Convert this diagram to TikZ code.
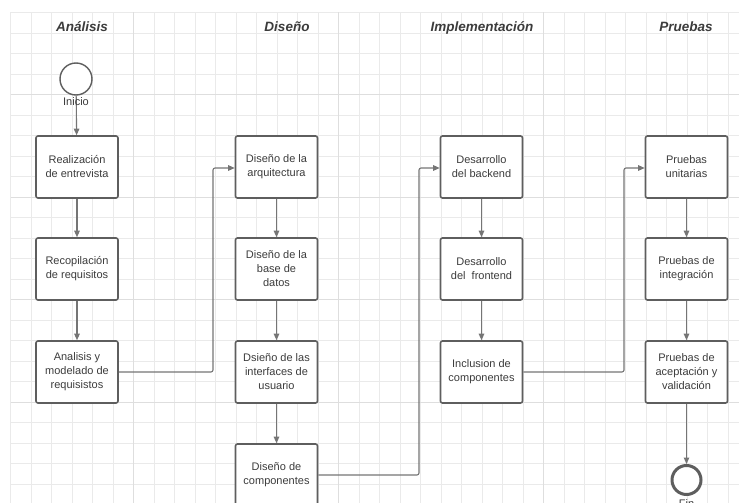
\documentclass[tikz,border=0pt]{standalone}
\usepackage{fontspec}
\setmainfont{Liberation Sans}
\definecolor{slate}{HTML}{5E5E5E}
\definecolor{steel}{HTML}{757575}
\definecolor{ink}{HTML}{3C3C3C}
\definecolor{mist}{HTML}{EAEAEA}
\definecolor{fog}{HTML}{DEDEDE}
\usetikzlibrary{arrows.meta}

\begin{document}
\begin{tikzpicture}[x=1pt, y=-1pt,
  box/.style={draw=slate, line width=1.6pt, fill=white, rounded corners=2pt,
    minimum width=82pt, minimum height=62pt, inner sep=0pt, align=center,
    text=ink, font=\fontsize{11}{14}\selectfont},
  heading/.style={anchor=base, text=ink, font=\fontsize{13.5}{16}\selectfont\bfseries\itshape},
  caption/.style={text=ink, font=\fontsize{11}{14}\selectfont},
  link/.style={draw=steel, line width=1.1pt, rounded corners=2pt,
    -{Triangle[length=6.5pt, width=5.5pt]}},
  gridline/.style={draw=mist, line width=0.8pt},
  gridmajor/.style={draw=fog, line width=1pt}]
  \clip (0,0) rectangle (739,503);
  \fill[white] (0,0) rectangle (739,503);

  % grid
  \foreach \k in {0,...,35}
    \draw[gridline] (10.5+20.5*\k, 12.5) -- (10.5+20.5*\k, 503);
  \foreach \k in {0,...,23}
    \draw[gridline] (10.5, 12.5+20.5*\k) -- (739, 12.5+20.5*\k);
  \foreach \k in {6,16,26}
    \draw[gridmajor] (10.5+20.5*\k, 12.5) -- (10.5+20.5*\k, 503);
  \foreach \k in {4,9,14,19}
    \draw[gridmajor] (10.5, 12.5+20.5*\k) -- (739, 12.5+20.5*\k);

  % lane titles
  \node[heading] (hanalisis) at (82,31.5) {Análisis};
  \node[heading] (hdiseno) at (287,31.5) {Diseño};
  \node[heading] (himpl) at (482,31.5) {Implementación};
  \node[heading] (hpruebas) at (686,31.5) {Pruebas};

  % start and end
  \node[circle, draw=slate, line width=1.4pt, fill=white, minimum size=32pt] (start) at (76,79) {};
  \node[circle, draw=slate, line width=3pt, fill=white, minimum size=29pt] (stop) at (686.5,480) {};

  % analisis
  \node[box] (a1) at (77,167) {Realización\\de entrevista};
  \node[box] (a2) at (77,269) {Recopilación\\de requisitos};
  \node[box] (a3) at (77,372) {Analisis y\\modelado de\\requisistos};

  % diseno
  \node[box] (d1) at (276.5,167) {Diseño de la\\arquitectura};
  \node[box] (d2) at (276.5,269) {Diseño de la\\base de\\datos};
  \node[box] (d3) at (276.5,372) {Dsieño de las\\interfaces de\\usuario};
  \node[box] (d4) at (276.5,475) {Diseño de\\componentes};

  % implementacion
  \node[box] (i1) at (481.5,167) {Desarrollo\\del backend};
  \node[box] (i2) at (481.5,269) {Desarrollo\\del\ \ frontend};
  \node[box] (i3) at (481.5,372) {Inclusion de\\componentes};

  % pruebas
  \node[box] (p1) at (686.5,167) {Pruebas\\unitarias};
  \node[box] (p2) at (686.5,269) {Pruebas de\\integración};
  \node[box] (p3) at (686.5,372) {Pruebas de\\aceptación y\\validación};

  % bends between lanes
  \coordinate (bend1) at (213,168);
  \coordinate (bend2) at (419,168);
  \coordinate (bend3) at (624,168);

  \draw[link] (start) -- (a1);
  \draw[link] (a1) -- (a2);
  \draw[link] (a2) -- (a3);
  \draw[link] (a3.east) -| (bend1) -- (d1.west |- bend1);
  \draw[link] (d1) -- (d2);
  \draw[link] (d2) -- (d3);
  \draw[link] (d3) -- (d4);
  \draw[link] (d4.east) -| (bend2) -- (i1.west |- bend2);
  \draw[link] (i1) -- (i2);
  \draw[link] (i2) -- (i3);
  \draw[link] (i3.east) -| (bend3) -- (p1.west |- bend3);
  \draw[link] (p1) -- (p2);
  \draw[link] (p2) -- (p3);
  \draw[link] (p3) -- (stop);

  \node[caption] (startlabel) at (76,102) {Inicio};
  \node[caption, anchor=north] (stoplabel) at (686.5,496) {Fin};
\end{tikzpicture}
\end{document}
